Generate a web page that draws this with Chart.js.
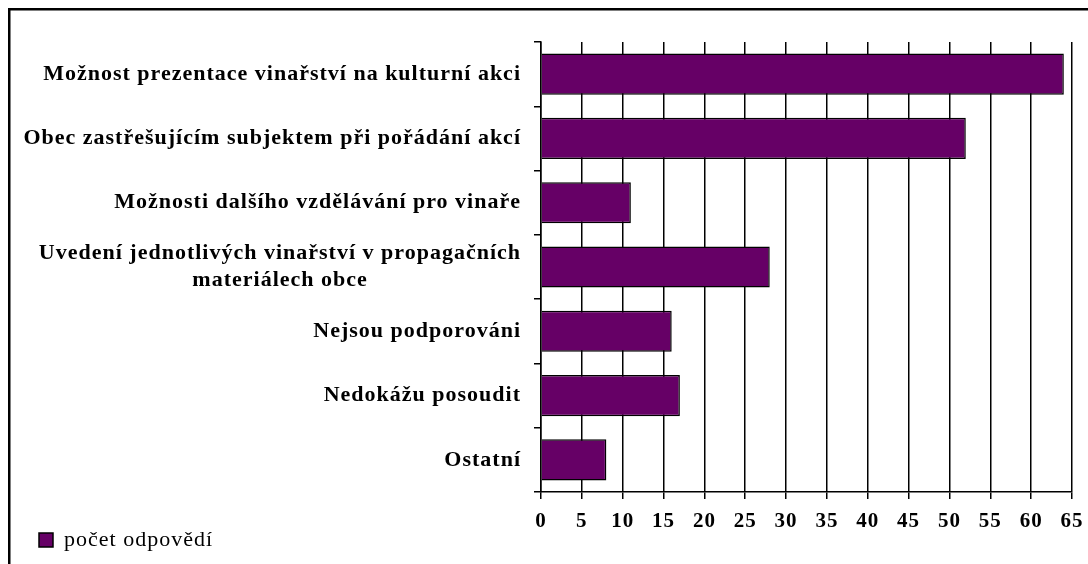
<!DOCTYPE html>
<html><head><meta charset="utf-8">
<script src="https://cdn.jsdelivr.net/npm/chart.js@4.4.1/dist/chart.umd.min.js"></script>
<style>html,body{margin:0;padding:0;background:#fff}#wrap{width:1088px;height:564px;position:relative}</style>
</head><body><div id="wrap"><canvas id="c"></canvas></div>
<script>
const categories = [
  ["Možnost prezentace vinařství na kulturní akci"],
  ["Obec zastřešujícím subjektem při pořádání akcí"],
  ["Možnosti dalšího vzdělávání pro vinaře"],
  ["Uvedení jednotlivých vinařství v propagačních", "materiálech obce"],
  ["Nejsou podporováni"],
  ["Nedokážu posoudit"],
  ["Ostatní"]
];
const values = [64, 52, 11, 28, 16, 17, 8];
const seriesName = "počet odpovědí";
const xTickMin = 0;
const xTickMax = 65;
const xTickStep = 5;

const FAMILY = "'Liberation Serif', 'Times New Roman', serif";
const LABEL_SIZE = 22;
const SPACING = '1px';
const measureCtx = document.createElement('canvas').getContext('2d');
measureCtx.font = "bold " + LABEL_SIZE + "px " + FAMILY;
measureCtx.letterSpacing = SPACING;

// center extra lines of a multi-line label under its first line (right-aligned block)
function centeredLines(lines) {
  if (lines.length < 2) return lines[0];
  const w0 = measureCtx.measureText(lines[0]).width;
  const sp = measureCtx.measureText("\u200A").width || 1;
  return lines.map((ln, i) => {
    if (i === 0) return ln;
    const w = measureCtx.measureText(ln).width;
    const n = Math.max(0, Math.round(((w0 - w) / 2) / sp));
    return ln + "\u200A".repeat(n);
  });
}

const frame = {
  id: 'frame',
  beforeDraw(chart) {
    chart.ctx.letterSpacing = SPACING;
    // let tick labels overflow their axis boxes (no clipping)
    Object.values(chart.scales).forEach(s => { s._computeLabelArea = () => null; });
  },
  afterDraw(chart) {
    const c = chart.ctx;
    c.save();
    c.strokeStyle = '#000';
    c.lineWidth = 2.5;
    c.beginPath();
    c.moveTo(9.25, 2000);
    c.lineTo(9.25, 9.25);
    c.lineTo(2000, 9.25);
    c.stroke();
    c.restore();
  }
};

new Chart(document.getElementById('c'), {
  type: 'bar',
  data: {
    labels: categories.map(centeredLines),
    datasets: [{
      label: seriesName,
      data: values,
      backgroundColor: '#660066',
      borderColor: '#000',
      borderWidth: 1.5,
      barPercentage: 0.64,
      categoryPercentage: 1
    }]
  },
  options: {
    indexAxis: 'y',
    responsive: true,
    maintainAspectRatio: false,
    animation: false,
    devicePixelRatio: 1,
    layout: { padding: { left: 29, right: 16, top: 42, bottom: 3 } },
    plugins: {
      legend: {
        position: 'bottom',
        align: 'start',
        labels: {
          boxWidth: 14, boxHeight: 14, padding: 10, color: '#000',
          font: { family: FAMILY, size: 22 }
        }
      },
      tooltip: { enabled: false }
    },
    scales: {
      x: {
        min: xTickMin, max: xTickMax,
        ticks: { stepSize: xTickStep, color: '#000', padding: 10, maxRotation: 0, autoSkip: false,
                 font: { family: FAMILY, size: 21, weight: 'bold' } },
        grid: { color: '#000', lineWidth: 1.5, tickLength: 7, tickColor: '#000' },
        border: { color: '#000', width: 1.5 },
        afterFit(s) { s.height = 27; s.paddingRight = 0; s.paddingLeft = 0; }
      },
      y: {
        ticks: { color: '#000', padding: 13, autoSkip: false,
                 font: { family: FAMILY, size: LABEL_SIZE, weight: 'bold', lineHeight: 1.25 } },
        grid: { drawOnChartArea: false, drawTicks: true, tickLength: 7, tickColor: '#000', lineWidth: 1.5, offset: true },
        border: { color: '#000', width: 1.5 },
        afterFit(s) { s.width = 512; }
      }
    }
  },
  plugins: [frame]
});
</script></body></html>
